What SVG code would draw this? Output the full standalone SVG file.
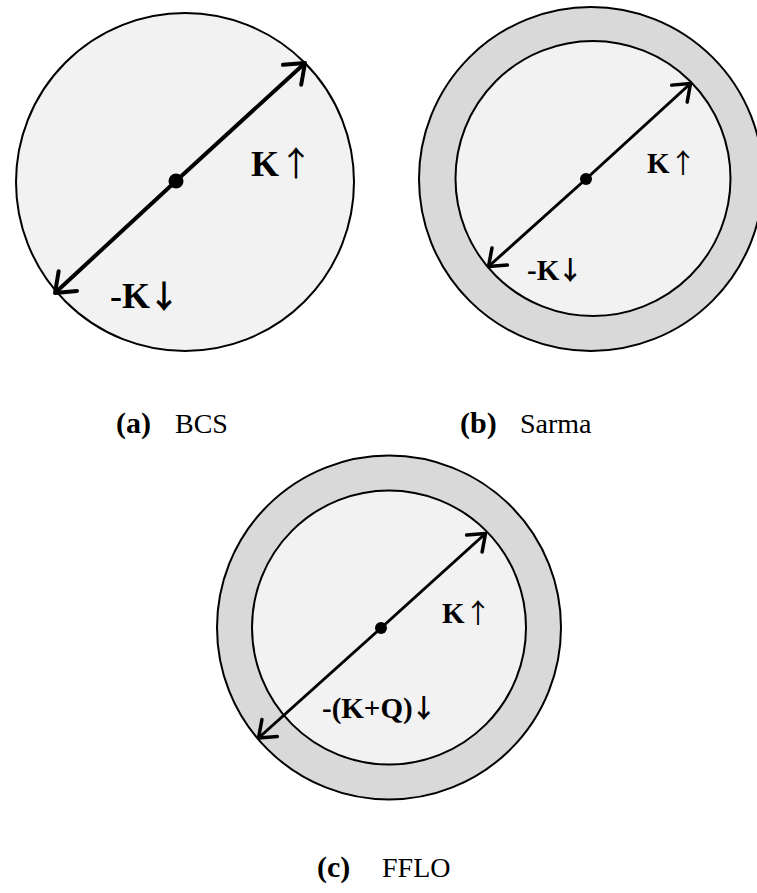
<svg xmlns="http://www.w3.org/2000/svg" width="757" height="893" viewBox="0 0 757 893">
<style>
.ring{fill:#d9d9d9;stroke:#000;stroke-width:2}
.disk{fill:#f2f2f2;stroke:#000;stroke-width:2}
.ln4{stroke:#000;stroke-width:4;fill:none}
.ln3{stroke:#000;stroke-width:3;fill:none}
.lbl{font-family:"Liberation Serif","Times New Roman",serif;font-weight:bold;fill:#000}
.up{font-family:"Noto Sans CJK SC","DejaVu Sans",sans-serif;font-weight:normal}
.dn{font-family:"Noto Sans CJK SC","DejaVu Sans",sans-serif;font-weight:bold}
.cap{font-family:"Liberation Serif","Times New Roman",serif;font-size:28px;fill:#000}
.capb{font-weight:bold;font-size:30px}
</style>
<defs>
<marker id="ah4" markerUnits="userSpaceOnUse" viewBox="-25 -20 30 40" refX="0" refY="0" markerWidth="30" markerHeight="40" orient="auto" overflow="visible">
<path d="M-17.5,-13.5 L0,0 L-17.5,13.5" fill="none" stroke="#000" stroke-width="4" stroke-linecap="round" stroke-linejoin="round"/>
</marker>
<marker id="ah3" markerUnits="userSpaceOnUse" viewBox="-25 -20 30 40" refX="0" refY="0" markerWidth="30" markerHeight="40" orient="auto" overflow="visible">
<path d="M-15,-11.5 L0,0 L-15,11.5" fill="none" stroke="#000" stroke-width="3.5" stroke-linecap="round" stroke-linejoin="round"/>
</marker>
</defs>

<g id="bcs">
<circle class="disk" cx="185" cy="182" r="169"/>
<circle cx="176" cy="181" r="7.5" fill="#000"/>
<text class="lbl" x="251" y="176" font-size="36">K<tspan class="up" font-size="34">↑</tspan></text>
<text class="lbl" x="110" y="308" font-size="36">-K<tspan class="dn" font-size="32" dx="-2">↓</tspan></text>
</g>

<g id="sarma">
<circle class="ring" cx="591" cy="179" r="172"/>
<circle class="disk" cx="593" cy="178.5" r="137.5"/>
<circle cx="586" cy="179" r="6" fill="#000"/>
<text class="lbl" x="647" y="173" font-size="29">K<tspan class="up" font-size="27">↑</tspan></text>
<text class="lbl" x="527" y="280" font-size="29">-K<tspan class="dn" font-size="26" dx="-2">↓</tspan></text>
</g>

<g id="fflo">
<circle class="ring" cx="389" cy="627.5" r="172"/>
<circle class="disk" cx="389" cy="627.5" r="137"/>
<circle cx="381" cy="628" r="6" fill="#000"/>
<text class="lbl" x="442" y="623" font-size="29">K<tspan class="up" font-size="27">↑</tspan></text>
<text class="lbl" x="322" y="718" font-size="29">-(K+Q)<tspan class="dn" font-size="26" dx="-2">↓</tspan></text>
</g>

<g id="connectors">
<line class="ln4" x1="176" y1="181" x2="305" y2="63" marker-end="url(#ah4)"/>
<line class="ln4" x1="176" y1="181" x2="55" y2="293" marker-end="url(#ah4)"/>
<line class="ln3" x1="586" y1="179" x2="690.5" y2="83.5" marker-end="url(#ah3)"/>
<line class="ln3" x1="586" y1="179" x2="488.5" y2="266.5" marker-end="url(#ah3)"/>
<line class="ln3" x1="381" y1="628" x2="485.5" y2="533.5" marker-end="url(#ah3)"/>
<line class="ln3" x1="381" y1="628" x2="258.5" y2="738" marker-end="url(#ah3)"/>
</g>

<g id="captions">
<text class="cap capb" x="116" y="433">(a)</text>
<text class="cap" x="175" y="433">BCS</text>
<text class="cap capb" x="460" y="433">(b)</text>
<text class="cap" x="520" y="433">Sarma</text>
<text class="cap capb" x="317" y="877">(c)</text>
<text class="cap" x="382" y="877">FFLO</text>
</g>
</svg>
